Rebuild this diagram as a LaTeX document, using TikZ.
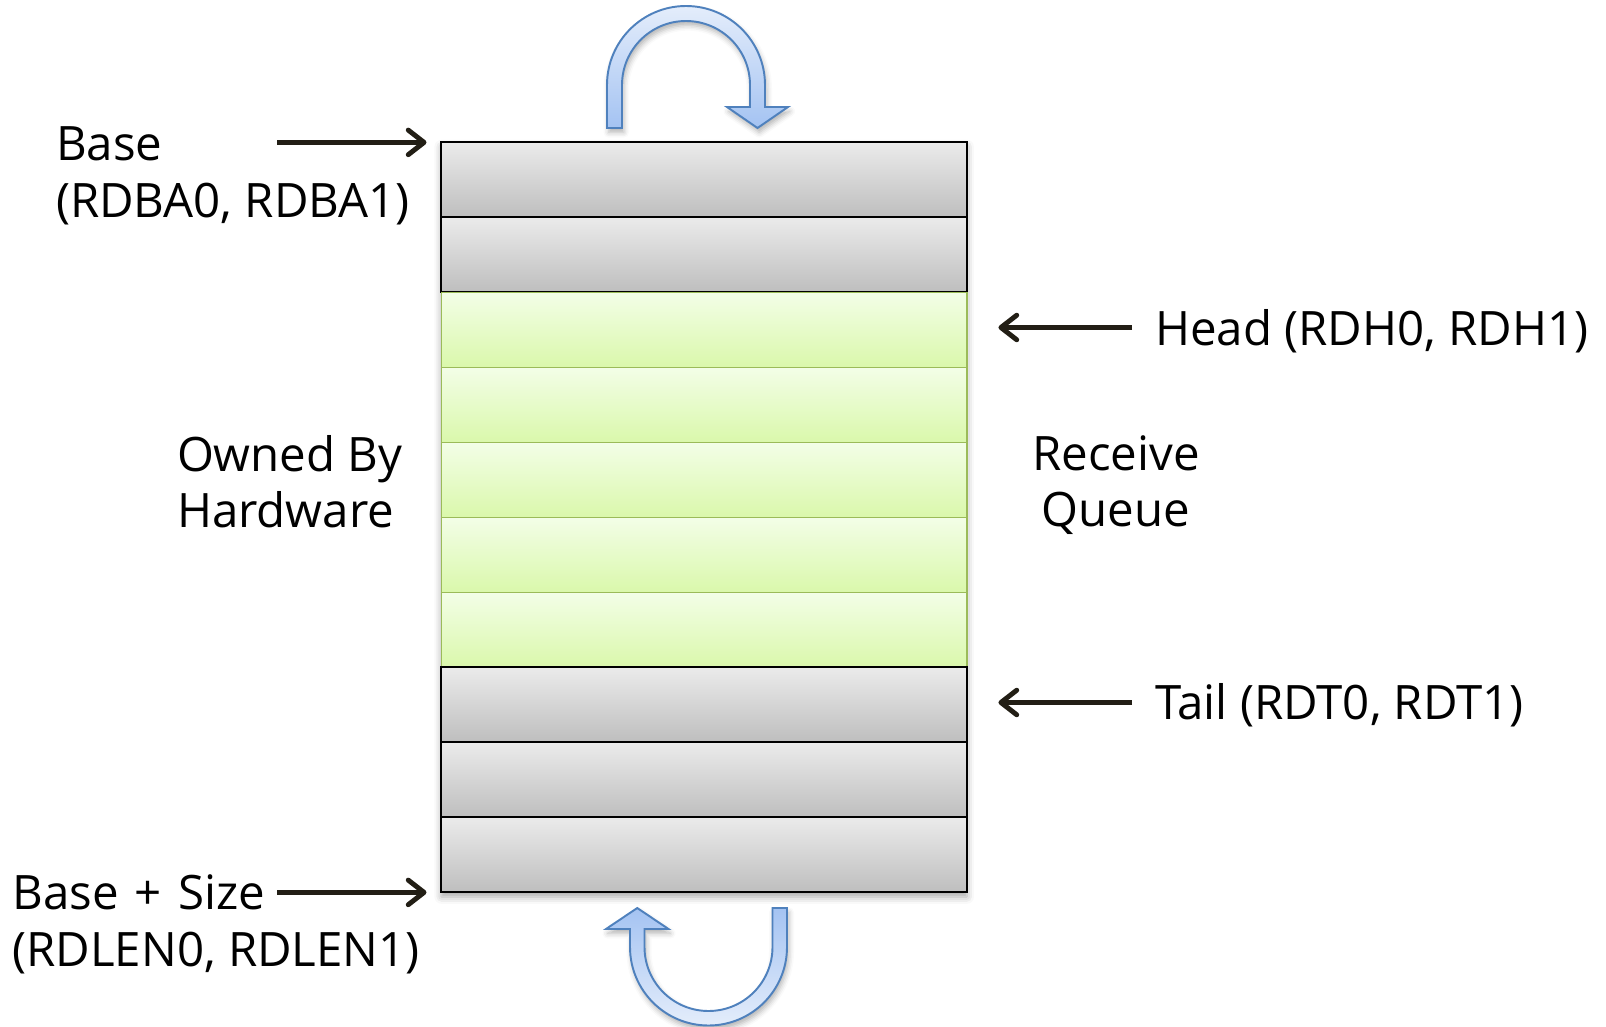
\documentclass[tikz,border=0pt]{standalone}
\usepackage{fontspec}
\setmainfont{Open Sans}
\usetikzlibrary{arrows.meta,shadows.blur}

\definecolor{ink}{HTML}{221E15}
\definecolor{grayTop}{HTML}{EBEBEB}
\definecolor{grayBot}{HTML}{BEBEBE}
\definecolor{greenTop}{HTML}{F3FEE7}
\definecolor{greenBot}{HTML}{DAF8AB}
\definecolor{greenEdge}{HTML}{9BBB59}
\definecolor{blueLight}{HTML}{E4EDFB}
\definecolor{blueDeep}{HTML}{A4C3F2}
\definecolor{blueEdge}{HTML}{4F81BD}

\begin{document}
\begin{tikzpicture}[x=0.02cm, y=-0.02cm,
  slot/.style={rectangle, inner sep=0pt, outer sep=0pt,
    minimum width=10.51cm, minimum height=1.5cm},
  freeslot/.style={slot, draw=black, line width=1.1pt,
    top color=grayTop, bottom color=grayBot},
  hwslot/.style={slot, draw=greenEdge, line width=0.9pt,
    top color=greenTop, bottom color=greenBot},
  lbl/.style={font=\fontsize{27}{32}\selectfont, inner sep=0pt, outer sep=0pt},
  ptr/.style={draw=ink, line width=2.8pt,
    -{Straight Barb[length=9pt, width=14pt, round]}},
  uturn/.style={draw=blueEdge, line width=1.1pt, line join=miter,
    blur shadow={shadow xshift=1pt, shadow yshift=-2.5pt,
      shadow blur radius=3pt, shadow opacity=30}}]

\useasboundingbox (0,0) rectangle (1606,1027);

% soft shadow behind the descriptor ring
\path[blur shadow={shadow xshift=0pt, shadow yshift=-2.5pt,
    shadow blur radius=4pt, shadow opacity=35}]
  (441.4,142.4) rectangle (966.9,892.4);

% descriptor slots: 0-1 free, 2-6 owned by hardware, 7-9 free
\foreach \k in {0,1} {
  \node[freeslot] (r\k) at (704.15, 179.9+75*\k) {};
}
\foreach \k in {2,...,6} {
  \node[hwslot] (r\k) at (704.15, 179.9+75*\k) {};
}
\foreach \k in {7,8,9} {
  \node[freeslot] (r\k) at (704.15, 179.9+75*\k) {};
}

% wrap-around arrows
\filldraw[uturn, top color=blueLight, bottom color=blueDeep]
  (607,128) -- (607,85) arc[start angle=180, end angle=360, radius=79]
  -- (765,107) -- (788,107) -- (757.5,128) -- (727,107) -- (750,107)
  -- (750,85) arc[start angle=0, end angle=-180, radius=64]
  -- (622,128) -- cycle;
\filldraw[uturn, top color=blueDeep, bottom color=blueLight]
  (787,908) -- (787,947) arc[start angle=0, end angle=180, radius=78.5]
  -- (630,929) -- (606,929) -- (637.25,908) -- (668.5,929) -- (644.5,929)
  -- (644.5,947) arc[start angle=180, end angle=0, radius=64]
  -- (772.5,908) -- cycle;

% labels
\node[lbl, anchor=base west] (base1) at (56,160.5) {Base};
\node[lbl, anchor=base west] (base2) at (56,217.5) {(RDBA0, RDBA1)};
\node[lbl, anchor=base west] (size1) at (12.3,909) {Base\hspace{0.34em}+\hspace{0.34em}Size};
\node[lbl, anchor=base west] (size2) at (12.3,966) {(RDLEN0, RDLEN1)};
\node[lbl, anchor=base west] (head) at (1155,345) {Head (RDH0, RDH1)};
\node[lbl, anchor=base west] (tail) at (1155,719.5) {Tail (RDT0, RDT1)};
\node[lbl, anchor=base west] (own1) at (177,471) {Owned By};
\node[lbl, anchor=base west] (own2) at (177,527) {Hardware};
\node[lbl, anchor=base] (rq1) at (1116,470) {Receive};
\node[lbl, anchor=base] (rq2) at (1116,526) {Queue};

% register pointers
\coordinate (baseFrom) at (277,142.4);
\coordinate (sizeFrom) at (277,892.4);
\coordinate (headFrom) at (1132,327.5);
\coordinate (tailFrom) at (1132,702.5);
\draw[ptr, shorten >=8.5pt] (baseFrom) -- (baseFrom -| r0.west);
\draw[ptr, shorten >=8.5pt] (sizeFrom) -- (sizeFrom -| r9.west);
\draw[ptr, shorten >=18pt] (headFrom) -- (headFrom -| r2.east);
\draw[ptr, shorten >=18pt] (tailFrom) -- (tailFrom -| r7.east);

\end{tikzpicture}
\end{document}
